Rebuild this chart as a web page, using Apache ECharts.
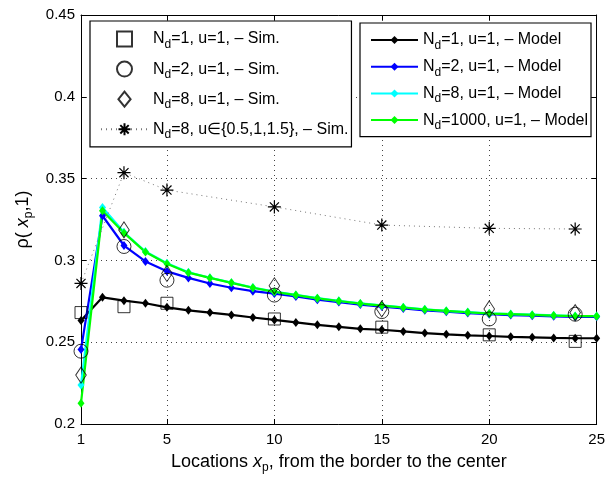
<!DOCTYPE html>
<html>
<head>
<meta charset="utf-8">
<script src="https://cdn.jsdelivr.net/npm/echarts@6/dist/echarts.min.js"></script>
<style>html,body{margin:0;padding:0;background:#fff;}#c{width:608px;height:479px;}</style>
</head>
<body>
<div id="c"></div>
<script>
// ---- data ----
const modelX = [1,2,3,4,5,6,7,8,9,10,11,12,13,14,15,16,17,18,19,20,21,22,23,24,25];
const modelNd1 = [0.2633,0.2774,0.2754,0.2738,0.2713,0.2695,0.2681,0.2667,0.2651,0.2636,0.2621,0.2606,0.2594,0.2582,0.2576,0.2566,0.2556,0.2548,0.2542,0.2538,0.2533,0.2530,0.2526,0.2524,0.2524];
const modelNd2 = [0.2455,0.3273,0.3091,0.2994,0.2933,0.2893,0.2859,0.2833,0.2812,0.2797,0.2780,0.2760,0.2745,0.2730,0.2718,0.2706,0.2695,0.2686,0.2678,0.2671,0.2666,0.2662,0.2658,0.2655,0.2655];
const modelNd8 = [0.2239,0.3324,0.3172,0.3054,0.2983,0.2927,0.2894,0.2864,0.2834,0.2809,0.2789,0.2769,0.2753,0.2737,0.2725,0.2713,0.2701,0.2692,0.2684,0.2676,0.2672,0.2668,0.2664,0.2660,0.2660];
const modelNd1000 = [0.2127,0.3303,0.3168,0.3051,0.2980,0.2925,0.2893,0.2863,0.2833,0.2808,0.2788,0.2768,0.2752,0.2736,0.2724,0.2712,0.2700,0.2691,0.2683,0.2675,0.2671,0.2667,0.2663,0.2659,0.2659];
const simX = [1,3,5,10,15,20,24];
const simNd1 = [0.2681,0.2717,0.2738,0.2642,0.2592,0.2545,0.2505];
const simNd2 = [0.2445,0.3085,0.2879,0.2788,0.2687,0.2642,0.2671];
const simNd8 = [0.2299,0.3186,0.2920,0.2845,0.2703,0.2703,0.2681];
const simNd8u = [0.2859,0.3536,0.3430,0.3327,0.3216,0.3196,0.3192];
const xTicks = [1,5,10,15,20,25];
const xTopTicks = [5,10,15,20];
const simNames = ['N{sub|d}=1, u=1, \u2013 Sim.','N{sub|d}=2, u=1, \u2013 Sim.','N{sub|d}=8, u=1, \u2013 Sim.','N{sub|d}=8, u\u2208{0.5,1,1.5}, \u2013 Sim.'];
const modelNames = ['N{sub|d}=1, u=1, \u2013 Model','N{sub|d}=2, u=1, \u2013 Model','N{sub|d}=8, u=1, \u2013 Model','N{sub|d}=1000, u=1, \u2013 Model'];

const pairs = (xs, ys) => xs.map((x, i) => [x, ys[i]]);
const FONT = 'Liberation Sans, Arial, sans-serif';
const starPath = 'path://M0,-10L0,10M-10,0L10,0M-7,-7L7,7M-7,7L7,-7';
const squarePath = 'path://M0,0L10,0L10,10L0,10Z';
const diamondPath = 'path://M0,-8L6.5,0L0,8L-6.5,0Z';

const richSub = {
  sub: {fontSize: 12, fontFamily: FONT, color: '#000', padding: [11, 0, 0, 0]}
};

function modelSeries(name, ys, color) {
  return {
    type: 'line', name: name, data: pairs(modelX, ys),
    symbol: 'diamond', symbolSize: [7, 9], showSymbol: true,
    lineStyle: {color: color, width: 2.2},
    itemStyle: {color: color},
    emphasis: {disabled: true}, animation: false, z: 3
  };
}
function simSeries(name, ys, symbol, size) {
  return {
    type: 'scatter', name: name, data: pairs(simX, ys),
    symbol: symbol, symbolSize: size, symbolKeepAspect: true,
    itemStyle: {color: 'transparent', borderColor: '#000', borderWidth: 1},
    emphasis: {disabled: true}, animation: false, z: 4
  };
}
const axisNameStyle = {fontSize: 18, fontFamily: FONT, color: '#000',
  rich: {sub: {fontSize: 12, fontFamily: FONT, color: '#000', padding: [12,0,0,0]},
         it: {fontStyle: 'italic', fontSize: 18, fontFamily: FONT, color: '#000'}}};

const chart = echarts.init(document.getElementById('c'), null, {renderer: 'canvas'});
const legendText = {fontSize: 16, fontFamily: FONT, color: '#000', lineHeight: 22, rich: richSub};
chart.setOption({
  animation: false,
  backgroundColor: '#fff',
  grid: {left: 81, right: 10, top: 15, bottom: 52},
  xAxis: [{
    type: 'value', min: 1, max: 25, splitNumber: 5,
    axisLine: {lineStyle: {color: '#000', width: 1}},
    axisTick: {inside: true, length: 5, customValues: xTicks, lineStyle: {color: '#000'}},
    axisLabel: {customValues: xTicks, color: '#000', fontSize: 15, fontFamily: FONT, margin: 8},
    splitLine: {show: true, lineStyle: {color: '#444', type: [1, 4], width: 1}},
    name: 'Locations {it|x}{sub|p}, from the border to the center',
    nameLocation: 'middle', nameGap: 26,
    nameTextStyle: axisNameStyle
  }, {
    type: 'value', min: 1, max: 25, position: 'top',
    axisLine: {lineStyle: {color: '#000', width: 1}},
    axisTick: {inside: true, length: 5, customValues: xTopTicks, lineStyle: {color: '#000'}},
    axisLabel: {show: false}, splitLine: {show: false}
  }],
  yAxis: [{
    type: 'value', min: 0.2, max: 0.45, interval: 0.05,
    axisLine: {show: true, lineStyle: {color: '#000', width: 1}},
    axisTick: {show: true, inside: true, length: 5, lineStyle: {color: '#000'}},
    axisLabel: {color: '#000', fontSize: 15, fontFamily: FONT, margin: 6,
      formatter: v => String(parseFloat(v.toFixed(2)))},
    splitLine: {show: true, lineStyle: {color: '#444', type: [1, 4], width: 1}},
    name: '\u03c1( {it|x}{sub|p},1)', nameLocation: 'middle', nameGap: 31, nameRotate: 90,
    nameTextStyle: axisNameStyle
  }, {
    type: 'value', min: 0.2, max: 0.45, interval: 0.05, position: 'right',
    axisLine: {show: true, lineStyle: {color: '#000', width: 1}},
    axisTick: {show: true, inside: true, length: 5, lineStyle: {color: '#000'}},
    axisLabel: {show: false}, splitLine: {show: false}
  }],
  legend: [{
    data: simNames, orient: 'vertical', left: 90, top: 21,
    padding: [7, 3, 6, 10], itemGap: 7.6, itemWidth: 47, itemHeight: 15,
    symbolKeepAspect: true,
    backgroundColor: '#fff', borderColor: '#000', borderWidth: 1.2, borderRadius: 0,
    textStyle: legendText, selectedMode: false
  }, {
    data: modelNames, orient: 'vertical', left: 360, top: 23,
    padding: [6, 3, 5, 10], itemGap: 4.2, itemWidth: 47, itemHeight: 10,
    backgroundColor: '#fff', borderColor: '#000', borderWidth: 1.2, borderRadius: 0,
    textStyle: legendText, selectedMode: false
  }],
  series: [
    simSeries(simNames[0], simNd1, squarePath, 12),
    simSeries(simNames[1], simNd2, 'circle', 14),
    simSeries(simNames[2], simNd8, diamondPath, [13, 16]),
    {
      type: 'line', name: simNames[3], data: pairs(simX, simNd8u),
      symbol: starPath, symbolSize: 13, showSymbol: true,
      lineStyle: {color: '#777', width: 1, type: [1, 4]},
      itemStyle: {color: 'transparent', borderColor: '#000', borderWidth: 1.2},
      emphasis: {disabled: true}, z: 4
    },
    modelSeries(modelNames[0], modelNd1, '#000000'),
    modelSeries(modelNames[1], modelNd2, '#0000ff'),
    modelSeries(modelNames[2], modelNd8, '#00ffff'),
    modelSeries(modelNames[3], modelNd1000, '#00ff00')
  ]
});
</script>
</body>
</html>
